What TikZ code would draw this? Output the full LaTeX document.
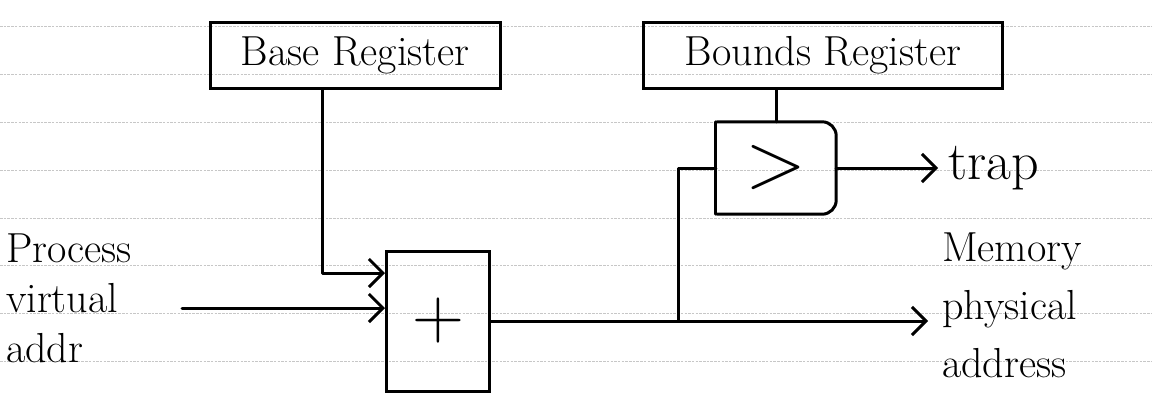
\documentclass[tikz,border=0pt]{standalone}
\usetikzlibrary{arrows.meta,calc}
\begin{document}
\begin{tikzpicture}[x=1pt,y=-1pt,
  wire/.style={line width=3pt,line cap=round,line join=round},
  arr/.style={wire,-{Straight Barb[length=14pt,width=28pt]}},
  regbox/.style={draw,line width=3pt,minimum height=66pt,inner sep=0pt,font=\fontsize{42}{48}\selectfont},
  opbox/.style={draw,line width=3pt,inner sep=0pt},
  lbl/.style={inner sep=0pt,align=left,anchor=west},
  rule/.style={black!22,line width=0.7pt,dash pattern=on 2.5pt off 1.2pt}]
\useasboundingbox (0,0) rectangle (1152,402);
\fill[white] (0,0) rectangle (1152,402);
% ruled paper
\foreach \yy in {26,74,122,170,218,265,313,361}
  \draw[rule] (0,\yy) -- (1152,\yy);
% nodes
\node[regbox,minimum width=290pt] (base) at (355,55) {Base\ Register};
\node[regbox,minimum width=359pt] (bounds) at (823,55) {Bounds\ Register};
\node[opbox,minimum width=103pt,minimum height=140pt,font=\fontsize{72}{72}\selectfont] (plus) at (438,321) {+};
\node[inner sep=0pt,minimum width=120pt,minimum height=92pt,font=\fontsize{80}{80}\selectfont] (cmp) at (776,168) {>};
\draw[wire] (cmp.north west) -- (cmp.south west);
\draw[wire,rounded corners=14pt] ([xshift=1pt]cmp.north west) -- (cmp.north east) -- (cmp.south east) -- ([xshift=1pt]cmp.south west);
\node[lbl,font=\fontsize{42}{50}\selectfont] (pva) at (6,298) {Process\\virtual\\addr};
\node[lbl,font=\fontsize{42}{58}\selectfont] (mem) at (942,305) {Memory\\physical\\address};
\node[lbl,font=\fontsize{54}{60}\selectfont] (trap) at (948,168) {trap};
% connectors
\coordinate (bturn) at (322,273);
\coordinate (vin) at (182,308);
\coordinate (br) at (678,321);
\draw[arr] (base.south -| bturn) -- (bturn) -- (bturn -| plus.west);
\draw[arr] (vin) -- (vin -| plus.west);
\draw[arr] (plus.east) -- ([xshift=-14pt]mem.west |- plus.east);
\draw[wire] (br) |- (cmp.west);
\draw[wire] (cmp.north |- bounds.south) -- (cmp.north);
\draw[arr] (cmp.east) -- ([xshift=-10pt]trap.west);
\end{tikzpicture}
\end{document}
